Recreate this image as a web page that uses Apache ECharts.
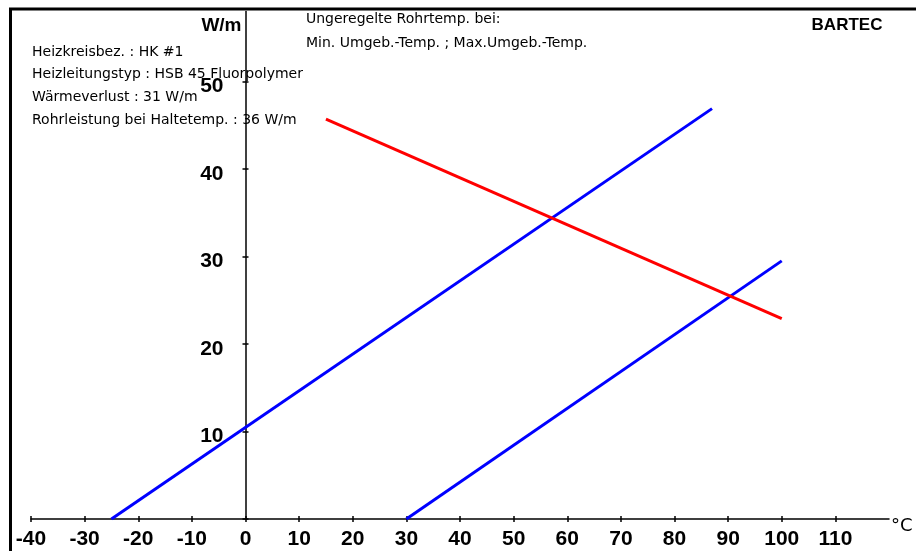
<!DOCTYPE html>
<html>
<head>
<meta charset="utf-8">
<script src="https://cdn.jsdelivr.net/npm/echarts@6/dist/echarts.min.js"></script>
<style>html,body{margin:0;padding:0;background:#fff;}#c{width:916px;height:551px;}</style>
</head>
<body>
<div id="c"></div>
<script>
// Data
const xRange = [-40, 120];
const yRange = [0, 58];
const xTickStep = 10;
const yTickStep = 10;
const xTickValues = [-40, -30, -20, -10, 0, 10, 20, 30, 40, 50, 60, 70, 80, 90, 100, 110];
const yTickValues = [0, 10, 20, 30, 40, 50];
const yLabelValues = [10, 20, 30, 40, 50];
const minAmbientLine = [[-25, 0], [87, 46.9]];   // blue (left)
const maxAmbientLine = [[30, 0], [100, 29.5]];   // blue (right)
const heaterOutput = [[15, 45.7], [100, 22.9]];  // red
const infoLines = [
  'Heizkreisbez. : HK #1',
  'Heizleitungstyp : HSB 45 Fluorpolymer',
  'Wärmeverlust : 31 W/m',
  'Rohrleistung bei Haltetemp. : 36 W/m'
];
const headerLines = ['Ungeregelte Rohrtemp. bei:', 'Min. Umgeb.-Temp. ; Max.Umgeb.-Temp.'];
const brand = 'BARTEC';
const xUnit = '°C';
const yUnit = 'W/m';

const W = 916, H = 551;
const gridLeft = 31, gridRight = 27, gridTop = 11.5, gridBottom = 32;
const plotW = W - gridLeft - gridRight;
// shift of the y axis from the grid's left edge to x = 0
const yAxisShift = plotW * (0 - xRange[0]) / (xRange[1] - xRange[0]);

const chart = echarts.init(document.getElementById('c'), null, {renderer: 'canvas'});
const smallFont = '14px "DejaVu Sans", sans-serif';
const tickFont = {fontSize: 21, fontWeight: 'bold', fontFamily: '"Liberation Sans", Arial, sans-serif', color: '#000'};

const graphics = [
  {type: 'rect', silent: true, shape: {x: 10.5, y: 9, width: 1000, height: 1000}, style: {fill: 'none', stroke: '#000', lineWidth: 3}, z: 10}
];
const infoY = [52, 74.5, 97.5, 120];
infoLines.forEach((t, i) => graphics.push({type: 'text', x: 32, y: infoY[i], style: {text: t, font: smallFont, fill: '#000', textVerticalAlign: 'middle'}, z: 20}));
const headY = [19, 43];
headerLines.forEach((t, i) => graphics.push({type: 'text', x: 306, y: headY[i], style: {text: t, font: smallFont, fill: '#000', textVerticalAlign: 'middle'}, z: 20}));
graphics.push({type: 'text', x: 847, y: 25, style: {text: brand, font: 'bold 17px "Liberation Sans", Arial, sans-serif', fill: '#000', textAlign: 'center', textVerticalAlign: 'middle'}, z: 20});

chart.setOption({
  animation: false,
  backgroundColor: '#fff',
  grid: {left: gridLeft, right: gridRight, top: gridTop, bottom: gridBottom, containLabel: false, outerBoundsMode: 'none'},
  graphic: graphics,
  xAxis: [{
    type: 'value', min: xRange[0], max: xRange[1], interval: xTickStep, position: 'bottom',
    name: xUnit, nameLocation: 'end', nameGap: 2,
    nameTextStyle: {fontSize: 18, fontFamily: '"DejaVu Sans", sans-serif', color: '#000', align: 'left', verticalAlign: 'top', lineHeight: 14},
    splitLine: {show: false},
    axisLine: {show: true, onZero: false, lineStyle: {color: '#000', width: 1.5}},
    axisTick: {show: true, length: 3, customValues: xTickValues, lineStyle: {color: '#000', width: 1.5}},
    axisLabel: Object.assign({margin: 10, customValues: xTickValues, formatter: v => (v >= xRange[1] ? '' : String(v))}, tickFont)
  }, {
    type: 'value', min: xRange[0], max: xRange[1], interval: xTickStep, position: 'bottom',
    splitLine: {show: false}, axisLine: {show: false, onZero: false},
    axisTick: {show: true, inside: true, length: 3, customValues: xTickValues, lineStyle: {color: '#000', width: 1.5}},
    axisLabel: {show: false}
  }],
  yAxis: [{
    type: 'value', min: yRange[0], max: yRange[1], interval: yTickStep, position: 'left', offset: -yAxisShift,
    name: yUnit, nameLocation: 'end', nameGap: -14,
    nameTextStyle: {fontSize: 19, fontWeight: 'bold', fontFamily: '"Liberation Sans", Arial, sans-serif', color: '#000', align: 'right', verticalAlign: 'middle', padding: [0, 4, 0, 0]},
    splitLine: {show: false},
    axisLine: {show: true, onZero: false, lineStyle: {color: '#000', width: 1.5}},
    axisTick: {show: true, length: 3, customValues: yTickValues, lineStyle: {color: '#000', width: 1.5}},
    axisLabel: Object.assign({margin: 22, verticalAlign: 'top', lineHeight: 10, customValues: yLabelValues, formatter: v => ((v <= yRange[0] || v >= yRange[1]) ? '' : String(v))}, tickFont)
  }, {
    type: 'value', min: yRange[0], max: yRange[1], interval: yTickStep, position: 'left', offset: -yAxisShift,
    splitLine: {show: false},
    axisLine: {show: false, onZero: false},
    axisTick: {show: true, inside: true, length: 3, customValues: yTickValues, lineStyle: {color: '#000', width: 1.5}},
    axisLabel: {show: false}
  }],
  series: [
    {type: 'line', name: 'Min. Umgeb.-Temp.', data: minAmbientLine, showSymbol: false, symbol: 'none', lineStyle: {color: '#0000ff', width: 3}, z: 5},
    {type: 'line', name: 'Max. Umgeb.-Temp.', data: maxAmbientLine, showSymbol: false, symbol: 'none', lineStyle: {color: '#0000ff', width: 3}, z: 5},
    {type: 'line', name: 'Rohrleistung', data: heaterOutput, showSymbol: false, symbol: 'none', lineStyle: {color: '#ff0000', width: 3}, z: 5}
  ]
});
</script>
</body>
</html>
